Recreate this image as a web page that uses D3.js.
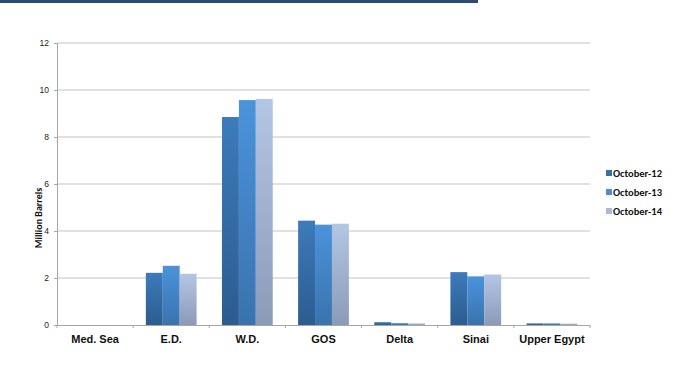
<!DOCTYPE html>
<html>
<head>
<meta charset="utf-8">
<script src="https://cdn.jsdelivr.net/npm/d3@7"></script>
<style>
  html, body { margin: 0; padding: 0; background: #fff; }
  svg { display: block; font-family: Calibri, Carlito, "Open Sans", "Liberation Sans", sans-serif; }
</style>
</head>
<body>
<svg id="chart" width="689" height="383"></svg>
<script>
// Oil reserves by region, million barrels
const regions = ["Med. Sea", "E.D.", "W.D.", "GOS", "Delta", "Sinai", "Upper Egypt"];
const seriesNames = ["October-12", "October-13", "October-14"];
const oct12 = [0, 2.22, 8.85, 4.44, 0.12, 2.25, 0.07];
const oct13 = [0, 2.52, 9.57, 4.27, 0.08, 2.07, 0.07];
const oct14 = [0, 2.18, 9.62, 4.31, 0.07, 2.15, 0.06];
const yTicks = [0, 2, 4, 6, 8, 10, 12];

const seriesValues = [oct12, oct13, oct14];
const topColors = ["#3D7BBA", "#4B93DA", "#B3C6E3"];
const bottomColors = ["#2C5C90", "#3A73AE", "#8A9BB8"];
const legendColors = ["#3A70AA", "#4A8ED2", "#A9BAD8"];

const svg = d3.select("#chart");
const margin = { left: 57, right: 99, top: 43, bottom: 58 };
const W = 689, H = 383;

// header band
svg.append("rect").attr("x", 0).attr("y", 0).attr("width", 478).attr("height", 3).attr("fill", "#2D4A73");

const x = d3.scaleBand().domain(regions).range([margin.left, W - margin.right]).paddingInner(0).paddingOuter(0);
// gap between groups is 150% of one bar width
const inner = d3.scaleBand().domain(seriesNames).range([0, x.bandwidth()]).paddingInner(0).paddingOuter(0.75);
const y = d3.scaleLinear().domain([0, 12]).range([H - margin.bottom, margin.top]);

const defs = svg.append("defs");
seriesNames.forEach((s, i) => {
  const g = defs.append("linearGradient").attr("id", "grad" + i).attr("x1", 0).attr("y1", 0).attr("x2", 0).attr("y2", 1);
  g.append("stop").attr("offset", "0%").attr("stop-color", topColors[i]);
  g.append("stop").attr("offset", "100%").attr("stop-color", bottomColors[i]);
});

// gridlines
svg.append("g")
  .selectAll("line")
  .data(yTicks.filter(d => d > 0))
  .join("line")
  .attr("x1", margin.left).attr("x2", W - margin.right)
  .attr("y1", d => y(d)).attr("y2", d => y(d))
  .attr("stroke", "#C4C4C4").attr("stroke-width", 1.2);

// y axis
const yAxis = svg.append("g")
  .attr("transform", `translate(${margin.left},0)`)
  .call(d3.axisLeft(y).tickValues(yTicks).tickSize(3).tickPadding(5));
yAxis.select(".domain").attr("stroke", "#A6A6A6");
yAxis.selectAll(".tick line").attr("stroke", "#A6A6A6");
yAxis.selectAll(".tick text").attr("font-size", 8.5).attr("fill", "#222").style("font-family", "inherit");

// bars
const barW = inner.bandwidth();
seriesNames.forEach((s, i) => {
  svg.append("g")
    .selectAll("rect")
    .data(regions.map((r, k) => ({ r, v: seriesValues[i][k] })))
    .join("rect")
    .attr("x", d => x(d.r) + inner(s))
    .attr("y", d => y(d.v))
    .attr("width", barW)
    .attr("height", d => y(0) - y(d.v))
    .attr("fill", `url(#grad${i})`);
});

// x axis
const xAxis = svg.append("g")
  .attr("transform", `translate(0,${y(0)})`)
  .call(d3.axisBottom(x).tickSize(0).tickPadding(10));
xAxis.select(".domain").attr("stroke", "#A6A6A6");
xAxis.selectAll(".tick text")
  .attr("font-size", 11).attr("font-weight", "bold").attr("fill", "#111").style("font-family", "inherit");
// category separators
xAxis.append("g").selectAll("line")
  .data(regions.concat(["__end"]))
  .join("line")
  .attr("x1", (d, k) => margin.left + k * x.step())
  .attr("x2", (d, k) => margin.left + k * x.step())
  .attr("y1", 0).attr("y2", 3)
  .attr("stroke", "#A6A6A6");

// y axis title
svg.append("text")
  .attr("transform", `translate(42,218) rotate(-90)`)
  .attr("text-anchor", "middle")
  .attr("font-size", 10).attr("font-weight", "bold").attr("fill", "#111")
  .text("Million Barrels");

// legend
const legend = svg.append("g").attr("transform", "translate(606,175)");
seriesNames.forEach((s, i) => {
  const row = legend.append("g").attr("transform", `translate(0,${i * 19})`);
  row.append("rect").attr("x", 0).attr("y", -5).attr("width", 6).attr("height", 6).attr("fill", legendColors[i]);
  row.append("text").attr("x", 7).attr("y", 2)
    .attr("font-size", 10.5).attr("font-weight", "bold").attr("fill", "#111").text(s);
});
</script>
</body>
</html>
